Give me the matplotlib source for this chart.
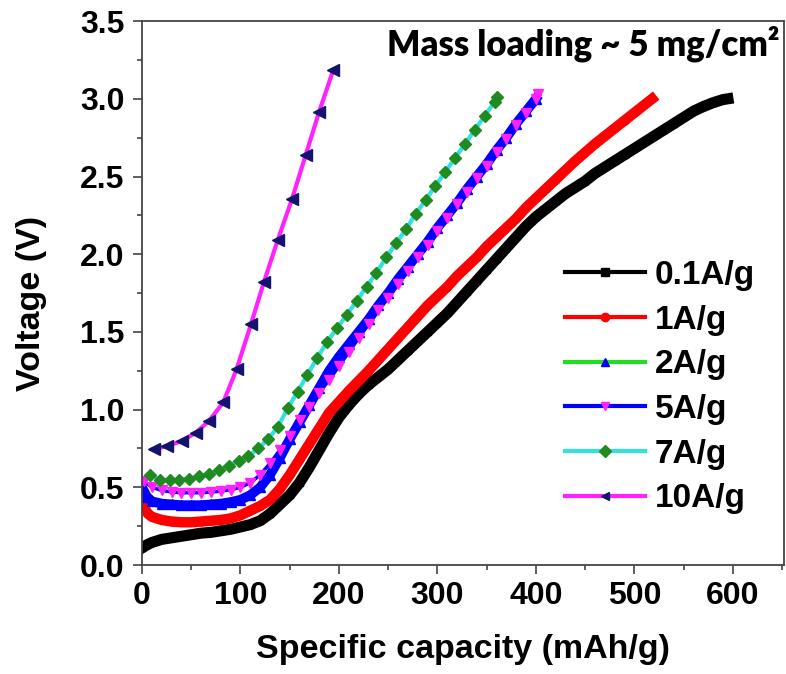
import matplotlib
matplotlib.use('Agg')
import matplotlib.pyplot as plt

# 0.1 A/g
cap_01 = [0, 5, 10, 20, 30, 40, 50, 60, 70, 80, 90, 100, 110, 120, 130, 140, 150, 160, 170, 180,
          190, 200, 210, 220, 230, 240, 250, 260, 270, 280, 290, 300, 310, 320, 330, 340, 350, 360,
          370, 380, 390, 400, 410, 420, 430, 440, 450, 460, 470, 480, 490, 500, 510, 520, 530, 540,
          550, 560, 570, 580, 590, 595]
v_01 = [0.11, 0.13, 0.145, 0.165, 0.175, 0.185, 0.195, 0.205, 0.21, 0.22, 0.23, 0.245, 0.26, 0.285,
        0.33, 0.39, 0.45, 0.53, 0.63, 0.74, 0.85, 0.95, 1.03, 1.10, 1.16, 1.21, 1.26, 1.32, 1.38,
        1.44, 1.50, 1.56, 1.62, 1.69, 1.76, 1.83, 1.90, 1.97, 2.04, 2.11, 2.18, 2.24, 2.29, 2.34,
        2.39, 2.43, 2.47, 2.52, 2.56, 2.60, 2.64, 2.68, 2.72, 2.76, 2.80, 2.84, 2.88, 2.92, 2.95,
        2.975, 2.995, 3.00]

# 1 A/g
cap_1 = [0, 3, 6, 10, 20, 30, 40, 50, 60, 70, 80, 90, 100, 110, 120, 130, 140, 150, 160, 170, 180,
         190, 200, 210, 220, 230, 240, 250, 260, 270, 280, 290, 300, 310, 320, 330, 340, 350, 360,
         370, 380, 390, 400, 410, 420, 430, 440, 450, 460, 470, 480, 490, 500, 510, 518]
v_1 = [0.42, 0.36, 0.33, 0.31, 0.29, 0.28, 0.275, 0.275, 0.28, 0.285, 0.29, 0.30, 0.32, 0.35, 0.38,
       0.42, 0.49, 0.58, 0.68, 0.78, 0.88, 0.98, 1.05, 1.12, 1.185, 1.25, 1.32, 1.39, 1.46, 1.53,
       1.60, 1.67, 1.73, 1.79, 1.86, 1.92, 1.98, 2.05, 2.11, 2.17, 2.23, 2.30, 2.36, 2.42, 2.48,
       2.54, 2.60, 2.655, 2.71, 2.76, 2.81, 2.86, 2.91, 2.96, 3.00]

# 2 A/g
cap_2 = [0, 5, 10, 20, 30, 40, 50, 60, 70, 80, 90, 100, 110, 120, 130, 140, 150, 160, 170, 180,
         190, 200, 210, 220, 230, 240, 250, 260, 270, 280, 290, 300, 310, 320, 330, 340, 350, 360,
         370, 380, 390, 400]
v_2 = [0.50, 0.44, 0.41, 0.395, 0.39, 0.385, 0.385, 0.385, 0.39, 0.395, 0.405, 0.42, 0.45, 0.50,
       0.58, 0.69, 0.81, 0.92, 1.03, 1.14, 1.25, 1.34, 1.42, 1.50, 1.58, 1.67, 1.75, 1.84, 1.92,
       2.00, 2.08, 2.17, 2.25, 2.33, 2.42, 2.50, 2.58, 2.67, 2.75, 2.84, 2.92, 3.00]

# 5 A/g
cap_5 = [2, 10, 20, 30, 40, 50, 60, 70, 80, 90, 100, 110, 120, 130, 140, 150, 160, 170, 180, 190,
         200, 210, 220, 230, 240, 250, 260, 270, 280, 290, 300, 310, 320, 330, 340, 350, 360, 370,
         380, 390, 400, 402]
v_5 = [0.54, 0.50, 0.48, 0.47, 0.465, 0.465, 0.465, 0.47, 0.475, 0.485, 0.50, 0.53, 0.58, 0.655,
       0.74, 0.83, 0.93, 1.02, 1.11, 1.19, 1.28, 1.37, 1.46, 1.55, 1.64, 1.72, 1.81, 1.89, 1.98,
       2.06, 2.15, 2.23, 2.32, 2.40, 2.49, 2.57, 2.66, 2.74, 2.83, 2.91, 3.00, 3.03]

# 7 A/g
cap_7 = [8, 18, 28, 38, 48, 58, 68, 78, 88, 98, 108, 118, 128, 138, 148, 158, 168, 178, 188, 198,
         208, 218, 228, 238, 248, 258, 268, 278, 288, 298, 308, 318, 328, 338, 348, 358, 361]
v_7 = [0.58, 0.55, 0.545, 0.55, 0.555, 0.57, 0.585, 0.61, 0.64, 0.67, 0.70, 0.75, 0.81, 0.89, 1.01,
       1.115, 1.225, 1.335, 1.435, 1.525, 1.61, 1.70, 1.79, 1.88, 1.98, 2.07, 2.16, 2.26, 2.35,
       2.44, 2.53, 2.62, 2.71, 2.80, 2.89, 2.98, 3.01]

# 10 A/g
cap_10 = [12.2, 25.7, 40.3, 54.5, 68.3, 82.5, 96.1, 110.7, 123.9, 137.8, 152.3, 166.2, 179.7, 194.2]
v_10 = [0.746, 0.766, 0.798, 0.851, 0.929, 1.047, 1.261, 1.551, 1.823, 2.091, 2.355, 2.638, 2.913,
        3.185]

labels = ['0.1A/g', '1A/g', '2A/g', '5A/g', '7A/g', '10A/g']

plt.rcParams['font.family'] = 'Liberation Sans'
plt.rcParams['font.weight'] = 'bold'

fig = plt.figure(figsize=(7.86, 6.74), dpi=100)
ax = fig.add_axes([0.1807, 0.1617, 0.8168, 0.807])

ax.plot(cap_01, v_01, color='black', lw=8, marker='s', ms=5, mfc='black', mec='black',
        label=labels[0], zorder=2)
ax.plot(cap_1, v_1, color='red', lw=7.5, marker='o', ms=5, mfc='red', mec='red',
        label=labels[1], zorder=2.1)
ax.plot(cap_2, v_2, color='#22dd22', lw=2.5, marker='^', ms=7, mfc='blue', mec='blue',
        label=labels[2], zorder=2.2)
# dense blue triangles of the 2 A/g curve form a solid band
ax.plot(cap_2, v_2, color='blue', lw=7, zorder=2.3)
ax.plot(cap_5, v_5, color='blue', lw=2.5, marker='v', ms=7, mfc='#ff22ff', mec='#ff22ff',
        label=labels[3], zorder=2.4)
ax.plot(cap_7, v_7, color='#33e0e0', lw=3, marker='D', ms=6, mfc='#1f8a1f', mec='#1f8a1f',
        label=labels[4], zorder=2.5)
ax.plot(cap_10, v_10, color='#ff22ff', lw=3, marker='<', ms=8, mfc='#14146e', mec='#14146e',
        label=labels[5], zorder=2.6)

ax.set_xlim(0, 652)
ax.set_ylim(0, 3.5)
ax.set_xticks([0, 100, 200, 300, 400, 500, 600])
ax.set_xticks([50, 150, 250, 350, 450, 550, 650], minor=True)
ax.set_yticks([0, 0.5, 1.0, 1.5, 2.0, 2.5, 3.0, 3.5])
ax.set_yticks([0.25, 0.75, 1.25, 1.75, 2.25, 2.75, 3.25], minor=True)
ax.set_yticklabels(['0.0', '0.5', '1.0', '1.5', '2.0', '2.5', '3.0', '3.5'])
ax.tick_params(which='major', direction='out', length=6.5, width=1.2, labelsize=23, pad=5,
               color='#444444')
ax.tick_params(which='minor', direction='out', length=3.5, width=1.2, color='#444444')
ax.tick_params(axis='y', pad=6)
for s in ax.spines.values():
    s.set_linewidth(1.3)
    s.set_color('#444444')

ax.set_xlabel('Specific capacity (mAh/g)', fontsize=24.5, fontweight='bold')
ax.set_ylabel('Voltage (V)', fontsize=24.5, fontweight='bold')
ax.xaxis.set_label_coords(0.5, -0.127)
ax.yaxis.set_label_coords(-0.148, 0.48)

ax.text(0.993, 0.9375, 'Mass loading ~ 5 mg/cm²', transform=ax.transAxes, ha='right',
        va='baseline', fontsize=25, fontweight='heavy', family='Lato')

leg = ax.legend(loc='upper left', bbox_to_anchor=(0.659, 0.561), frameon=False,
                fontsize=24, handlelength=2.4, handletextpad=0.3, labelspacing=0.41,
                borderpad=0, borderaxespad=0)
for h in leg.legend_handles:
    h.set_linewidth(3)
    h.set_markersize(6)

plt.savefig('out.png', dpi=100)
